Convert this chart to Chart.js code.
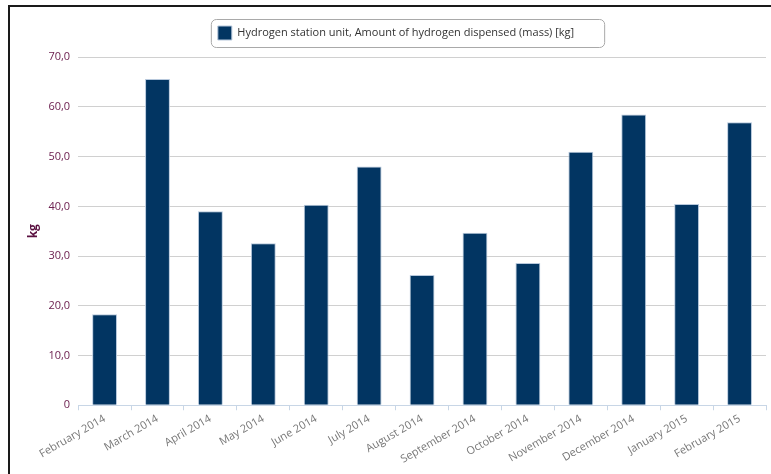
<!DOCTYPE html>
<html>
<head>
<meta charset="utf-8">
<script src="https://cdn.jsdelivr.net/npm/chart.js@4.4.0/dist/chart.umd.min.js"></script>
<style>
  html, body { margin: 0; padding: 0; background: #fff; }
  #wrap { position: relative; width: 771px; height: 474px; }
  #frame {
    position: absolute; left: 8px; top: 5px; right: 0; bottom: 0;
    border-left: 2px solid #1a1a1a; border-top: 2px solid #1a1a1a;
    pointer-events: none;
  }
</style>
</head>
<body>
<div id="wrap">
  <canvas id="myChart"></canvas>
  <div id="frame"></div>
</div>
<script>
// chart data
const months = [
  "February 2014", "March 2014", "April 2014", "May 2014", "June 2014",
  "July 2014", "August 2014", "September 2014", "October 2014",
  "November 2014", "December 2014", "January 2015", "February 2015"
];
const hydrogenKg = [18.3, 65.6, 39.0, 32.6, 40.3, 48.0, 26.2, 34.7, 28.6, 51.0, 58.5, 40.5, 56.9];
const seriesLabel = "Hydrogen station unit, Amount of hydrogen dispensed (mass) [kg]";
const yTitle = "kg";

const fontFamily = "'Open Sans', 'DejaVu Sans', sans-serif";

// draws the rounded box round the legend
const legendBox = {
  id: "legendBox",
  afterDraw(chart) {
    const legend = chart.legend;
    if (!legend || !legend.legendHitBoxes || !legend.legendHitBoxes.length) return;
    const hb = legend.legendHitBoxes[0];
    const ctx = chart.ctx;
    const x = hb.left - 7, y = hb.top - 7;
    const w = hb.width + 7 + 30, h = hb.height + 14;
    ctx.save();
    ctx.strokeStyle = "#a9a9a9";
    ctx.lineWidth = 1;
    ctx.beginPath();
    ctx.roundRect(x + 0.5, y + 0.5, w, h, 5);
    ctx.stroke();
    ctx.restore();
  }
};

const myChart = new Chart("myChart", {
  type: "bar",
  data: {
    labels: months,
    datasets: [
      {
        label: seriesLabel,
        data: hydrogenKg,
        backgroundColor: "#023562",
        borderColor: "#b7c8dc",
        borderWidth: 1,
        categoryPercentage: 1.0,
        barPercentage: 0.47
      }
    ]
  },
  plugins: [legendBox],
  options: {
    responsive: true,
    maintainAspectRatio: false,
    animation: false,
    layout: { padding: { left: 26, right: 5, top: 10, bottom: 6 } },
    plugins: {
      legend: {
        position: "top",
        labels: {
          boxWidth: 14,
          boxHeight: 14,
          color: "#333",
          font: { family: fontFamily, size: 11 },
          padding: 16
        }
      },
      // empty title used only as a spacer under the legend
      title: {
        display: true,
        text: "",
        weight: 500,
        font: { size: 1 },
        padding: 3
      },
      tooltip: { enabled: false }
    },
    scales: {
      x: {
        offset: true,
        grid: {
          offset: true,
          drawOnChartArea: false,
          color: "#c8d6e6",
          tickLength: 5
        },
        border: { color: "#c8d6e6" },
        ticks: {
          color: "#777",
          font: { family: fontFamily, size: 11 },
          maxRotation: 30,
          minRotation: 30,
          padding: 2
        }
      },
      y: {
        min: 0,
        max: 70,
        grid: { color: "#d0d0d0", drawTicks: false },
        border: { display: false },
        ticks: {
          stepSize: 10,
          padding: 8,
          color: "#6d2150",
          font: { family: fontFamily, size: 11 },
          callback: function (v) {
            return v === 0 ? "0" : v.toFixed(1).replace(".", ",");
          }
        },
        title: {
          display: true,
          text: yTitle,
          color: "#5a1040",
          font: { family: fontFamily, size: 12, weight: "bold" },
          padding: { top: 0, bottom: 0 }
        }
      }
    }
  }
});
</script>
</body>
</html>
